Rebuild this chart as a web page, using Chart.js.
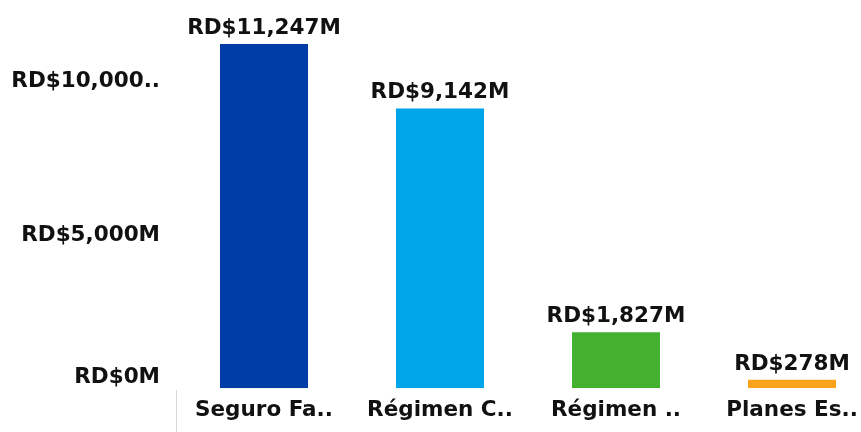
<!DOCTYPE html>
<html>
<head>
<meta charset="utf-8">
<script src="https://cdn.jsdelivr.net/npm/chart.js@4.4.1/dist/chart.umd.min.js"></script>
<style>
	html, body { margin: 0; padding: 0; background: #fff; overflow: hidden; }
	#wrap { width: 880px; height: 432px; }
</style>
</head>
<body>
<div id="wrap"><canvas id="chart" width="880" height="432"></canvas></div>
<script>
// values in millions of RD$
const categories = ['Seguro Fa..', 'Régimen C..', 'Régimen ..', 'Planes Es..'];
const montos = [11247, 9142, 1827, 278];
const etiquetas = ['RD$11,247M', 'RD$9,142M', 'RD$1,827M', 'RD$278M'];
const colores = ['#003da6', '#00a4e8', '#43b02f', '#fba31b'];
const yTicks = [0, 5000, 10000];
const yTickLabels = ['RD$0M', 'RD$5,000M', 'RD$10,000..'];

const fuente = { family: 'DejaVu Sans', weight: 'bold', size: 21.5 };

// labels on top of the bars, y labels (the 0 one sits flush on the bottom)
// and the little line at the left of the x axis
const extras = {
	id: 'extras',
	afterDatasetsDraw(chart) {
		const ctx = chart.ctx;
		const y = chart.scales.y;
		ctx.save();
		ctx.font = 'bold ' + fuente.size + 'px "DejaVu Sans"';
		ctx.fillStyle = '#111';
		ctx.textAlign = 'center';
		ctx.textBaseline = 'bottom';
		chart.getDatasetMeta(0).data.forEach((bar, i) => {
			ctx.fillText(etiquetas[i], bar.x, bar.y - 5);
		});
		ctx.textAlign = 'right';
		yTicks.forEach((v, i) => {
			ctx.textBaseline = v === 0 ? 'bottom' : 'middle';
			ctx.fillText(yTickLabels[i], chart.chartArea.left - 16, y.getPixelForValue(v) - (i == 2 ? 1 : 0));
		});
		ctx.strokeStyle = '#d9d9d9';
		ctx.lineWidth = 1;
		ctx.beginPath();
		ctx.moveTo(chart.chartArea.left + 0.5, chart.chartArea.bottom + 2);
		ctx.lineTo(chart.chartArea.left + 0.5, chart.height);
		ctx.stroke();
		ctx.restore();
	}
};

const ctx = document.getElementById('chart').getContext('2d');
const myChart = new Chart(ctx, {
	type: 'bar',
	data: {
		labels: categories,
		datasets: [{
			data: montos,
			backgroundColor: colores,
			categoryPercentage: 1,
			barPercentage: 0.5
		}]
	},
	options: {
		responsive: false,
		animation: false,
		layout: { padding: { top: 21, left: 0, right: 0, bottom: 0 } },
		plugins: { legend: { display: false }, tooltip: { enabled: false } },
		scales: {
			x: {
				grid: { display: false, drawTicks: false },
				border: { display: false },
				ticks: { color: '#111', font: fuente, padding: 9, maxRotation: 0, autoSkip: false }
			},
			y: {
				min: 0,
				max: 12000,
				grid: { display: false, drawTicks: false },
				border: { display: false },
				ticks: { display: false },
				afterFit: (axis) => { axis.width = 176; }
			}
		}
	},
	plugins: [extras]
});
</script>
</body>
</html>
